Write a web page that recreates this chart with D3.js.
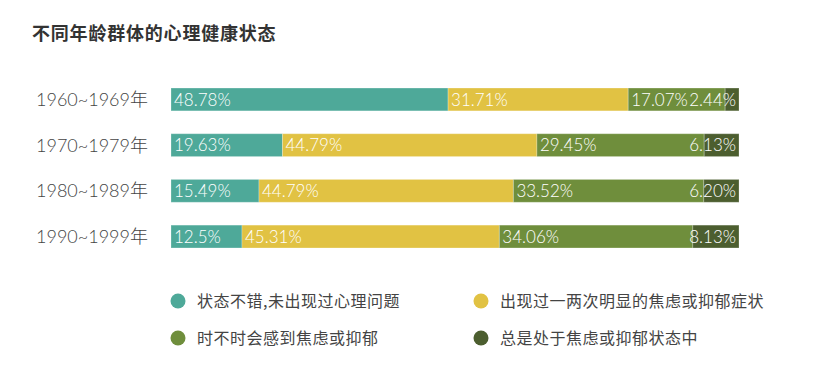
<!DOCTYPE html>
<html>
<head>
    <meta charset="utf-8">
    <style>
        body {
            margin: 0;
            padding: 0;
            background-color: #ffffff;
            font-family: "Noto Sans CJK SC", "Noto Sans", sans-serif;
        }
        .title {
            font-size: 18px;
            font-weight: bold;
            fill: #333;
        }
        .year {
            font-family: Lato, "Noto Sans CJK SC", sans-serif;
            font-size: 18px;
            font-weight: 300;
            fill: #444;
        }
        .pct {
            font-family: Lato, sans-serif;
            font-size: 17px;
            font-weight: 300;
            fill: #fff;
        }
        .legend-text {
            font-size: 16px;
            fill: #444;
        }
    </style>
    <script src="https://d3js.org/d3.v7.min.js"></script>
</head>
<body>
<div id="chart"></div>
<script>
    // data
    var years = ["1960~1969年", "1970~1979年", "1980~1989年", "1990~1999年"];
    var groups = ["状态不错,未出现过心理问题", "出现过一两次明显的焦虑或抑郁症状",
                  "时不时会感到焦虑或抑郁", "总是处于焦虑或抑郁状态中"];
    var good      = [48.78, 19.63, 15.49, 12.5];
    var onceTwice = [31.71, 44.79, 44.79, 45.31];
    var sometimes = [17.07, 29.45, 33.52, 34.06];
    var always    = [2.44, 6.13, 6.20, 8.13];
    var labels = [
        ["48.78%", "31.71%", "17.07%", "2.44%"],
        ["19.63%", "44.79%", "29.45%", "6.13%"],
        ["15.49%", "44.79%", "33.52%", "6.20%"],
        ["12.5%", "45.31%", "34.06%", "8.13%"]
    ];
    var colors = ["#4ea999", "#e1c243", "#6f8e3c", "#4c5e2f"];

    var width = 838, height = 374;

    var svg = d3.select("#chart").append("svg")
        .attr("width", width)
        .attr("height", height);

    svg.append("text")
        .attr("class", "title")
        .attr("x", 32)
        .attr("y", 40)
        .attr("letter-spacing", "0.8px")
        .text("不同年龄群体的心理健康状态");

    var xScale = d3.scaleLinear().domain([0, 100]).range([171, 739]);
    var yScale = d3.scaleBand().domain(years).range([76.6, 259.4])
        .paddingInner(0.5).paddingOuter(0.25);

    // build rows from the series arrays
    var rows = years.map(function(y, i) {
        return { year: y, vals: [good[i], onceTwice[i], sometimes[i], always[i]], labels: labels[i] };
    });

    var stack = d3.stack().keys([0, 1, 2, 3]).value(function(d, k) { return d.vals[k]; });
    var series = stack(rows);

    // year labels
    svg.selectAll(".year")
        .data(years)
        .enter().append("text")
        .attr("class", "year")
        .attr("x", 148)
        .attr("y", function(d) { return yScale(d) + yScale.bandwidth() / 2; })
        .attr("dy", "0.36em")
        .attr("text-anchor", "end")
        .text(function(d) { return d; });

    var layer = svg.selectAll(".layer")
        .data(series)
        .enter().append("g")
        .attr("class", "layer")
        .attr("fill", function(d, i) { return colors[i]; });

    layer.selectAll("rect")
        .data(function(d) { return d; })
        .enter().append("rect")
        .attr("x", function(d) { return xScale(d[0]); })
        .attr("y", function(d) { return yScale(d.data.year); })
        .attr("width", function(d) { return xScale(d[1]) - xScale(d[0]); })
        .attr("height", yScale.bandwidth())
        .attr("stroke", "rgba(255,255,255,0.25)")
        .attr("stroke-width", 1);

    // percentage labels
    layer.each(function(s, k) {
        d3.select(this).selectAll("text")
            .data(s)
            .enter().append("text")
            .attr("class", "pct")
            .attr("x", function(d) { return k === 3 ? xScale(d[1]) - 3 : xScale(d[0]) + 3; })
            .attr("y", function(d) { return yScale(d.data.year) + yScale.bandwidth() / 2; })
            .attr("dy", "0.36em")
            .attr("text-anchor", k === 3 ? "end" : "start")
            .text(function(d) { return d.data.labels[k]; });
    });

    // legend
    var legX = [178, 481], legY = [301, 338];
    var leg = svg.selectAll(".legend")
        .data(groups)
        .enter().append("g")
        .attr("class", "legend")
        .attr("transform", function(d, i) {
            return "translate(" + legX[i % 2] + "," + legY[Math.floor(i / 2)] + ")";
        });

    leg.append("circle")
        .attr("r", 7.5)
        .attr("fill", function(d, i) { return colors[i]; });

    leg.append("text")
        .attr("class", "legend-text")
        .attr("x", 19)
        .attr("dy", "0.36em")
        .attr("letter-spacing", "0.5px")
        .text(function(d) { return d; });
</script>
</body>
</html>
